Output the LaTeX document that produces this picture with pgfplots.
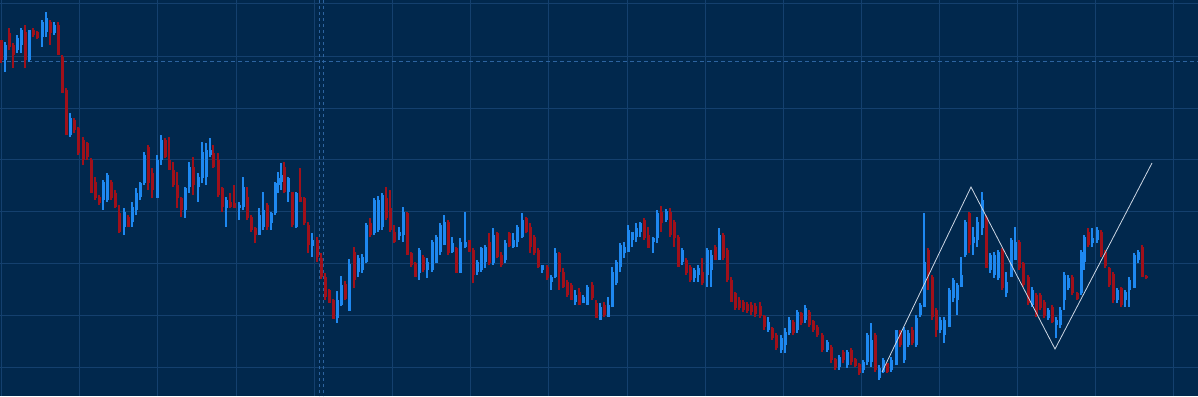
\documentclass[border=0pt]{standalone}
\usepackage{pgfplots}
\usepackage{pgfplotstable}
\pgfplotsset{compat=1.18}
\definecolor{bgc}{RGB}{1,40,77}
\definecolor{gridc}{RGB}{20,64,110}
\definecolor{crossc}{RGB}{45,100,160}
\definecolor{upc}{RGB}{30,136,240}
\definecolor{dnc}{RGB}{160,16,26}
\definecolor{zzc}{RGB}{205,215,228}

% pixel coordinates: x from left, y from top; h = high (top of wick), l = low, bt/bb = body top/bottom
\pgfplotstableread{
x h l bt bb
5 42 72 45 60
17 35 53 38 50
21 28 53 30 45
29 30 62 30 60
42 20 47 22 37
46 12 37 18 32
54 22 35 25 33
70 113 137 118 135
103 180 210 182 200
107 173 202 175 200
124 208 235 212 227
132 202 227 207 222
136 188 215 193 210
140 182 200 183 197
144 152 185 155 183
157 155 198 160 198
161 135 165 140 160
185 187 218 188 210
189 162 193 167 187
198 173 202 177 187
202 142 183 152 178
206 143 185 150 177
210 138 157 150 155
226 197 227 200 208
239 202 220 205 208
243 177 210 187 207
259 208 235 215 235
263 192 230 210 227
271 212 230 213 223
275 182 215 183 213
278 172 193 178 185
281 163 190 175 182
288 177 202 178 192
296 192 228 193 227
312 233 257 240 246
337 291 323 300 318
341 276 306 285 305
349 259 311 264 311
358 255 277 258 272
362 254 273 257 270
366 223 263 225 262
374 198 235 200 233
378 196 232 200 230
382 193 230 195 227
399 227 240 232 236
403 207 242 212 235
419 248 280 250 273
427 258 278 262 270
432 240 272 242 270
436 235 263 237 263
440 223 255 225 252
444 215 245 222 245
452 237 253 243 252
460 238 273 242 273
465 212 248 242 247
477 260 275 262 272
481 247 272 248 270
485 245 268 247 262
493 228 265 235 263
505 240 263 243 260
513 233 248 240 247
517 225 247 227 242
522 213 238 220 237
542 265 273 265 270
551 275 290 277 282
555 248 278 253 277
575 290 305 295 302
583 295 303 297 303
587 285 305 287 305
600 303 320 307 320
608 297 317 305 317
612 267 307 272 307
616 260 285 262 283
620 243 272 245 267
624 242 258 247 253
628 225 252 230 252
632 232 247 232 240
636 223 242 228 237
640 222 237 223 232
653 237 253 238 242
657 210 243 213 238
666 209 222 211 220
682 248 265 250 262
694 268 282 270 278
698 265 282 268 275
707 248 287 250 275
711 250 287 255 270
719 228 260 235 260
768 317 332 322 330
781 335 353 338 350
785 328 353 332 345
789 317 335 320 333
797 310 333 312 330
805 305 323 308 320
827 340 352 342 350
839 355 370 357 367
847 350 368 352 365
863 360 373 362 370
867 333 365 335 362
871 323 367 340 362
879 365 380 368 378
883 358 373 360 372
891 357 372 360 370
896 330 365 330 365
904 327 363 330 360
908 330 347 333 345
916 315 347 318 345
920 303 317 305 315
924 213 307 262 307
940 317 333 320 330
944 317 343 320 335
949 288 327 290 327
953 278 302 280 298
957 283 315 285 300
961 257 287 275 287
965 220 257 222 255
973 227 255 237 243
977 217 247 222 240
982 192 235 200 228
990 253 273 255 270
994 252 278 255 275
998 250 280 252 278
1006 272 297 282 293
1011 238 277 240 277
1015 227 260 242 260
1032 287 307 290 305
1048 308 320 310 318
1056 317 338 320 325
1060 307 328 310 325
1064 272 310 275 300
1068 275 290 278 288
1081 250 295 252 293
1084 235 270 237 262
1092 228 247 238 243
1097 227 243 230 240
1117 288 303 290 300
1125 290 307 292 300
1129 277 307 280 290
1134 253 288 255 288
1138 250 263 252 260
}\upT

\pgfplotstableread{
x h l bt bb
1 40 63 40 60
9 28 50 33 47
13 43 68 45 55
25 25 68 32 60
33 28 37 30 35
37 31 39 32 38
50 20 45 22 33
58 22 55 25 55
62 55 93 57 93
66 88 135 90 135
74 118 133 120 130
78 127 155 128 153
83 137 165 140 160
87 142 160 143 157
91 158 193 160 193
95 177 200 182 198
99 195 205 197 203
111 180 200 182 198
115 190 208 193 207
119 205 233 213 232
128 215 227 217 227
148 145 190 147 183
152 168 198 173 190
165 138 158 140 157
169 137 170 160 170
173 162 187 170 185
177 172 208 185 198
181 197 217 198 210
193 157 195 167 185
213 145 168 153 167
218 153 197 160 195
222 187 212 188 207
230 193 208 202 207
234 185 208 203 208
247 187 220 197 218
251 215 232 217 230
255 227 243 228 235
267 203 230 205 227
284 162 193 167 192
292 192 227 192 225
300 168 202 197 202
304 197 225 198 223
308 222 253 225 245
317 237 262 240 257
321 253 279 258 277
325 273 300 277 297
329 289 303 290 303
333 299 319 300 319
345 281 300 284 299
354 247 288 252 280
370 218 237 223 235
386 187 220 198 218
390 190 232 208 230
394 225 243 232 242
407 212 255 213 255
411 252 267 253 265
415 262 277 263 277
423 255 272 257 270
448 220 255 222 253
456 247 273 248 273
469 240 252 240 252
473 248 283 250 275
489 233 265 242 263
497 232 258 233 257
501 252 267 255 265
509 232 247 233 246
526 217 233 218 232
530 223 253 227 247
534 235 255 237 253
538 248 268 250 267
547 265 280 267 278
559 252 290 253 272
563 268 288 272 287
567 280 297 282 295
571 283 300 285 300
579 288 305 292 305
592 282 300 285 298
596 300 318 303 318
604 302 317 305 315
644 218 240 220 238
648 227 248 235 248
661 206 232 212 223
670 208 237 212 235
674 220 247 222 238
678 235 267 237 267
686 258 275 260 273
690 265 282 267 280
702 258 285 272 283
715 245 260 247 260
723 233 260 235 258
727 248 282 250 280
731 277 302 280 302
735 292 310 293 308
739 297 310 300 308
743 300 312 302 310
747 302 313 304 311
751 302 315 305 312
755 303 317 306 314
760 302 318 306 316
764 315 330 316 327
772 327 340 328 338
776 333 350 335 348
793 320 335 322 333
801 312 325 313 323
809 310 327 312 325
813 320 332 321 330
817 325 337 327 335
822 333 352 335 350
831 345 363 347 360
835 358 370 359 368
843 350 363 352 360
851 348 365 350 362
855 358 367 359 366
859 363 375 364 373
875 333 372 335 370
887 363 373 363 372
900 330 347 332 345
912 327 345 330 343
928 248 290 250 275
932 275 320 277 317
936 308 337 310 330
969 212 253 213 245
986 215 268 217 268
1002 248 290 250 288
1019 240 270 242 268
1023 262 287 263 285
1028 275 305 277 303
1036 293 317 295 315
1040 293 310 295 308
1044 300 318 302 316
1052 305 323 307 322
1072 275 295 277 293
1077 292 300 293 299
1088 228 247 232 245
1101 230 257 232 255
1105 250 268 252 266
1109 267 287 268 285
1113 272 303 274 300
1121 287 307 288 305
1142 245 277 247 277
1146 275 279 276 278
}\dnT

\begin{document}
\begin{tikzpicture}
\begin{axis}[
  width=1198pt, height=396pt, scale only axis,
  xmin=0, xmax=1198, ymin=0, ymax=396,
  y dir=reverse,
  xtick=\empty, ytick=\empty,
  axis line style={draw=none},
  axis background/.style={fill=bgc},
  clip=true,
  candle/.style={only marks, mark=*, mark size=0pt,
    mark options={draw=none, fill=none},
    error bars/.cd, y dir=plus, y explicit, error mark=none},
]
% grid
\pgfplotsinvokeforeach{1,79,157,236,314,392,470,548,627,705,783,861,939,1017,1095,1173}{
  \draw[gridc, line width=1pt] (axis cs:#1,0) -- (axis cs:#1,396);
}
\pgfplotsinvokeforeach{4,56.5,108,159.5,211,263,315,367}{
  \draw[gridc, line width=1pt] (axis cs:0,#1) -- (axis cs:1198,#1);
}
% crosshair
\draw[crossc, line width=0.9pt, dash pattern=on 3pt off 3pt] (axis cs:319.5,0) -- (axis cs:319.5,396);
\draw[crossc, line width=0.9pt, dash pattern=on 3pt off 3pt] (axis cs:323.5,0) -- (axis cs:323.5,396);
\draw[crossc, line width=0.9pt, dash pattern=on 4pt off 3pt] (axis cs:0,61.3) -- (axis cs:1198,61.3);
% wicks
\addplot[candle, error bar style={draw=upc, line width=1.1pt}]
  table[x=x, y=h, y error expr=\thisrow{l}-\thisrow{h}] {\upT};
\addplot[candle, error bar style={draw=dnc, line width=1.1pt}]
  table[x=x, y=h, y error expr=\thisrow{l}-\thisrow{h}] {\dnT};
% bodies
\addplot[candle, error bar style={draw=upc, line width=3pt}]
  table[x=x, y=bt, y error expr=\thisrow{bb}-\thisrow{bt}] {\upT};
\addplot[candle, error bar style={draw=dnc, line width=3pt}]
  table[x=x, y=bt, y error expr=\thisrow{bb}-\thisrow{bt}] {\dnT};
% zigzag
\addplot[zzc, line width=0.8pt, mark=none] coordinates {(882,372) (971,187) (1055,349) (1152,163)};
\end{axis}
\end{tikzpicture}
\end{document}
